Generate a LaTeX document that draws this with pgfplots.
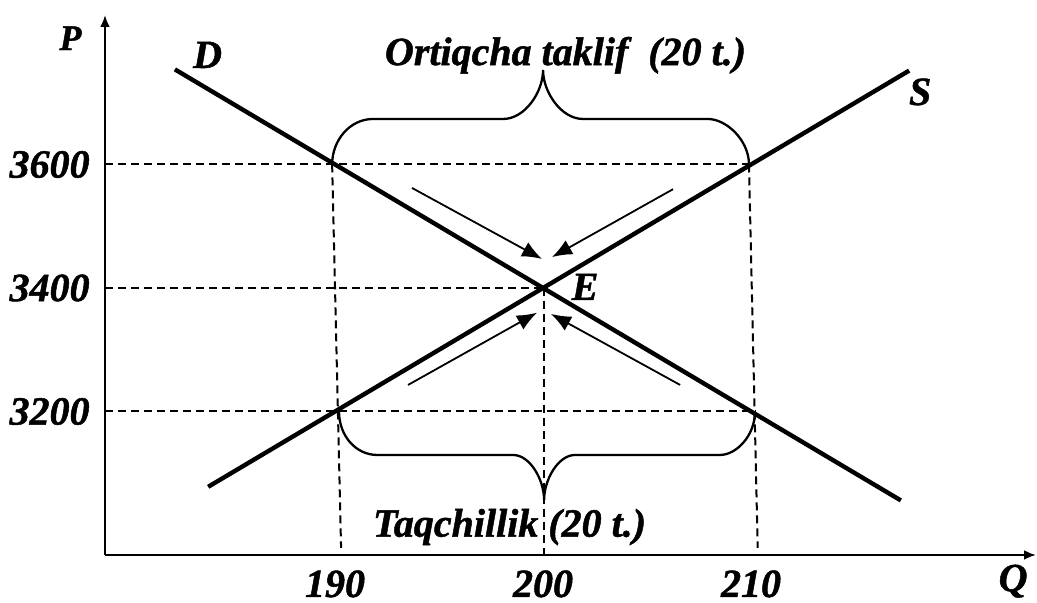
\documentclass[border=0pt]{standalone}
\usepackage{fontspec}
\setmainfont{Liberation Serif}[BoldItalicFeatures={FakeBold=1.2}]
\usepackage{pgfplots}
\pgfplotsset{compat=1.18}
\usetikzlibrary{arrows.meta}

\newcommand{\lbl}{\fontsize{20}{24}\selectfont\bfseries\itshape}

\begin{document}
\begin{tikzpicture}
\useasboundingbox (-52.5pt,-24pt) rectangle (466pt,277.5pt);
\begin{axis}[
  at={(0,0)}, anchor=south west,
  scale only axis,
  width=465.5pt, height=270pt,
  xmin=178.94, xmax=223.70,
  ymin=2967.6, ymax=3842.1,
  axis lines=left,
  axis line style={line width=1.35pt, -{Latex[length=6pt,width=5pt]}},
  xtick={190,200,210},
  xticklabels={190,\raisebox{-1.5pt}{200},210},
  ytick={3200,3400,3600},
  yticklabels={3200,3400,3600},
  major tick length=0pt,
  tick label style={font=\lbl, inner sep=0pt},
  xticklabel style={yshift=-7.5pt},
  yticklabel style={xshift=-7.5pt},
  clip=false,
]
% demand and supply
\addplot[line width=2.2pt] coordinates {(182.3,3754) (217.2,3056)};
\addplot[line width=2.2pt] coordinates {(183.9,3078) (217.6,3752)};

% guide lines
\pgfplotsset{guide/.style={line width=1pt, dash pattern=on 4pt off 2.5pt}}
\addplot[guide] coordinates {(178.94,3600) (210,3600)};
\addplot[guide] coordinates {(178.94,3400) (200,3400)};
\addplot[guide] coordinates {(178.94,3200) (210.2,3200)};
\addplot[guide] coordinates {(189.86,3600) (190.29,2979)};
\addplot[guide] coordinates {(209.9,3600) (210.32,2979)};
\addplot[guide] coordinates {(200.05,3400) (200.05,2967.6)};

% arrows towards E
\pgfplotsset{toE/.style={line width=0.9pt, -{Latex[length=10pt,width=8pt]}}}
\addplot[toE] coordinates {(193.70,3562) (199.95,3447)};
\addplot[toE] coordinates {(206.25,3560) (200.43,3450)};
\addplot[toE] coordinates {(193.51,3243) (199.71,3360)};
\addplot[toE] coordinates {(206.59,3243) (200.38,3358)};

% braces
\draw[line width=1.15pt]
  (axis cs:189.86,3600) .. controls (axis cs:189.86,3639.7) and (axis cs:190.72,3673.7) .. (axis cs:191.83,3673.7)
  -- (axis cs:198.08,3673.7) .. controls (axis cs:199.13,3673.7) and (axis cs:200,3717.4) .. (axis cs:200,3753)
  .. controls (axis cs:200,3717.4) and (axis cs:200.87,3673.7) .. (axis cs:201.92,3673.7)
  -- (axis cs:207.93,3673.7) .. controls (axis cs:208.80,3673.7) and (axis cs:209.90,3639.7) .. (axis cs:209.90,3600);
\draw[line width=1.15pt]
  (axis cs:190.19,3200) .. controls (axis cs:190.19,3160.3) and (axis cs:191.01,3129.6) .. (axis cs:192.02,3129.6)
  -- (axis cs:198.56,3129.6) .. controls (axis cs:199.38,3129.6) and (axis cs:200.05,3089.1) .. (axis cs:200.05,3056.7)
  .. controls (axis cs:200.05,3089.1) and (axis cs:200.72,3129.6) .. (axis cs:201.54,3129.6)
  -- (axis cs:208.51,3129.6) .. controls (axis cs:209.28,3129.6) and (axis cs:210.19,3160.3) .. (axis cs:210.19,3200);

% labels
\node[font=\lbl, anchor=base] at (axis cs:201.08,3761) {Ortiqcha taklif\ \ (20 t.)};
\node[font=\lbl, anchor=base] at (axis cs:198.39,2997.3) {Taqchillik (20 t.)};
\node[font=\lbl, anchor=base] at (axis cs:183.87,3756.3) {D};
\node[font=\lbl, anchor=base] at (axis cs:218.13,3696.4) {S};
\node[font=\lbl, anchor=base] at (axis cs:202.02,3380.6) {E};
\node[font=\fontsize{18}{22}\selectfont\bfseries\itshape, anchor=base] at (axis cs:177.28,3785.4) {P};
\node[font=\lbl, anchor=base] at (axis cs:222.6,2909) {Q};
\end{axis}
\end{tikzpicture}
\end{document}
